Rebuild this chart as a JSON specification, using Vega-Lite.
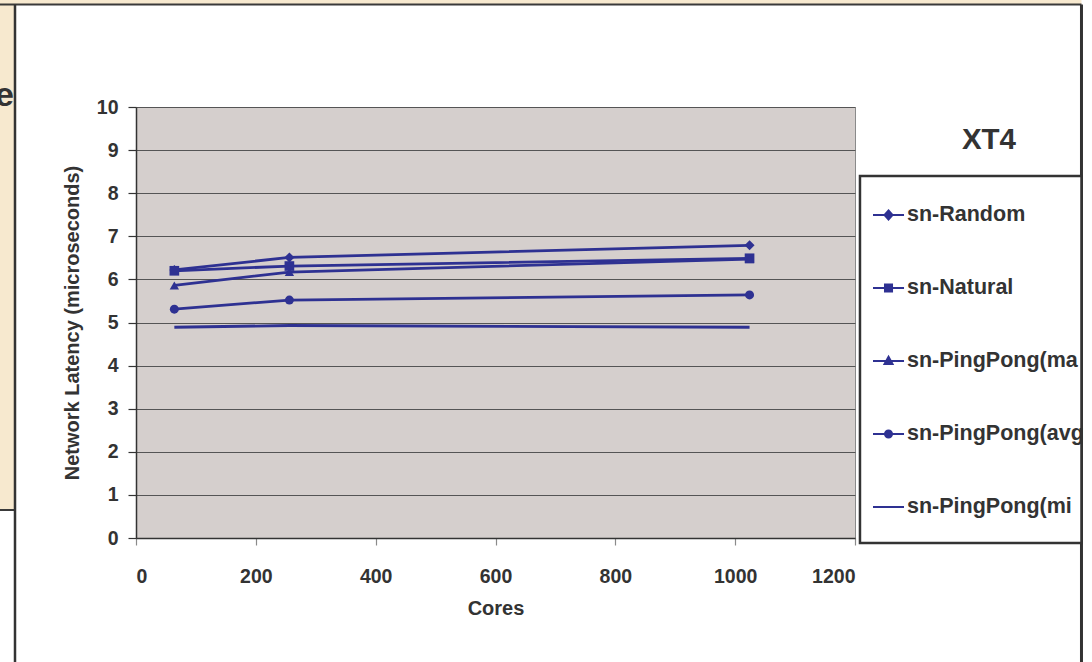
{
  "$schema": "https://vega.github.io/schema/vega-lite/v6.json",
  "width": 719,
  "height": 431,
  "autosize": {"type": "none"},
  "padding": {"left": 136, "top": 107, "right": 237, "bottom": 124},
  "background": "#ffffff",
  "title": {
    "text": "XT4",
    "anchor": "end",
    "frame": "group",
    "orient": "top",
    "offset": 0,
    "dx": 161,
    "dy": 179,
    "baseline": "alphabetic",
    "font": "Liberation Sans",
    "fontSize": 29.5,
    "fontWeight": "bold",
    "color": "#333333"
  },
  "config": {
    "view": {"fill": "#d5cfcd", "stroke": "#8a8a8a", "strokeWidth": 1},
    "axis": {
      "labelFont": "Liberation Sans",
      "labelFontSize": 19.5,
      "labelFontWeight": "bold",
      "labelColor": "#333333",
      "titleFont": "Liberation Sans",
      "titleFontSize": 20,
      "titleFontWeight": "bold",
      "titleColor": "#333333",
      "domainColor": "#333333",
      "domainWidth": 1.5
    },
    "axisX": {
      "grid": false,
      "tickColor": "#8a8a8a",
      "tickSize": 7,
      "tickWidth": 1.2,
      "labelPadding": 22,
      "titleY": 70,
      "titleBaseline": "middle"
    },
    "axisY": {
      "grid": true,
      "gridColor": "#555555",
      "gridWidth": 1,
      "tickColor": "#333333",
      "tickSize": 8,
      "tickWidth": 1.2,
      "labelPadding": 10,
      "titleX": -64,
      "titleBaseline": "middle"
    }
  },
  "layer": [
    {
      "data": {"values": [{"strip": "left"}]},
      "mark": {"type": "rect", "fill": "#f7e9cf"},
      "encoding": {
        "x": {"datum": -300, "type": "quantitative", "scale": {"domain": [0, 1200], "nice": false}},
        "x2": {"datum": -201.95},
        "y": {"datum": 12.4826, "type": "quantitative", "scale": {"domain": [0, 10], "nice": false}},
        "y2": {"datum": 0.65}
      }
    },
    {
      "data": {"values": [{"strip": "top"}]},
      "mark": {"type": "rect", "fill": "#f7e9cf"},
      "encoding": {
        "x": {"datum": -300, "type": "quantitative", "scale": {"domain": [0, 1200], "nice": false}},
        "x2": {"datum": 1578},
        "y": {"datum": 12.4826, "type": "quantitative", "scale": {"domain": [0, 10], "nice": false}},
        "y2": {"datum": 12.378}
      }
    },
    {
      "data": {"values": [{"edge": "top"}]},
      "mark": {"type": "rule", "color": "#3a3a3a", "strokeWidth": 2},
      "encoding": {
        "x": {"datum": -300, "type": "quantitative", "scale": {"domain": [0, 1200], "nice": false}},
        "x2": {"datum": 1578},
        "y": {"datum": 12.378, "type": "quantitative", "scale": {"domain": [0, 10], "nice": false}}
      }
    },
    {
      "data": {"values": [{"edge": "corner"}]},
      "mark": {"type": "rule", "color": "#3a3a3a", "strokeWidth": 2},
      "encoding": {
        "x": {"datum": -300, "type": "quantitative", "scale": {"domain": [0, 1200], "nice": false}},
        "x2": {"datum": -201.95},
        "y": {"datum": 0.65, "type": "quantitative", "scale": {"domain": [0, 10], "nice": false}}
      }
    },
    {
      "data": {"values": [{"edge": "left"}]},
      "mark": {"type": "rule", "color": "#333333", "strokeWidth": 2.5},
      "encoding": {
        "x": {"datum": -201.95, "type": "quantitative", "scale": {"domain": [0, 1200], "nice": false}},
        "y": {"datum": 12.378, "type": "quantitative", "scale": {"domain": [0, 10], "nice": false}},
        "y2": {"datum": -4}
      }
    },
    {
      "data": {"values": [{"edge": "right"}]},
      "mark": {"type": "rule", "color": "#333333", "strokeWidth": 3},
      "encoding": {
        "x": {"datum": 1578, "type": "quantitative", "scale": {"domain": [0, 1200], "nice": false}},
        "y": {"datum": 12.378, "type": "quantitative", "scale": {"domain": [0, 10], "nice": false}},
        "y2": {"datum": -4}
      }
    },
    {
      "data": {"values": [{"box": "legend"}]},
      "mark": {"type": "rect", "fill": "#ffffff", "stroke": "#333333", "strokeWidth": 2.5},
      "encoding": {
        "x": {"datum": 1208.3, "type": "quantitative", "scale": {"domain": [0, 1200], "nice": false}},
        "x2": {"datum": 1578},
        "y": {"datum": 8.399, "type": "quantitative", "scale": {"domain": [0, 10], "nice": false}},
        "y2": {"datum": -0.116}
      }
    },
    {
      "data": {"values": [{"letter": "e"}]},
      "mark": {"type": "text", "align": "right", "baseline": "alphabetic", "font": "Liberation Sans", "fontSize": 34, "fontWeight": "bold", "color": "#333333"},
      "encoding": {
        "x": {"datum": -203.6, "type": "quantitative", "scale": {"domain": [0, 1200], "nice": false}},
        "y": {"datum": 10.02, "type": "quantitative", "scale": {"domain": [0, 10], "nice": false}},
        "text": {"field": "letter"}
      }
    },
    {
      "data": {"name": "latency"},
      "mark": {"type": "line", "strokeWidth": 2.8},
      "encoding": {
        "x": {
          "field": "cores",
          "type": "quantitative",
          "scale": {"domain": [0, 1200], "nice": false},
          "axis": {"values": [0, 200, 400, 600, 800, 1000, 1200], "format": "d", "title": "Cores"}
        },
        "y": {
          "field": "latency",
          "type": "quantitative",
          "scale": {"domain": [0, 10], "nice": false},
          "axis": {"values": [0, 1, 2, 3, 4, 5, 6, 7, 8, 9, 10], "title": "Network Latency (microseconds)"}
        },
        "color": {
          "field": "series",
          "type": "nominal",
          "scale": {
            "domain": ["sn-Random", "sn-Natural", "sn-PingPong(max)", "sn-PingPong(avg)", "sn-PingPong(min)"],
            "range": ["#2e3192", "#2e3192", "#2e3192", "#2e3192", "#2e3192"]
          },
          "legend": {
            "title": null,
            "orient": "none",
            "legendX": 736,
            "legendY": 83.5,
            "padding": 0,
            "labelFont": "Liberation Sans",
            "labelFontSize": 21.5,
            "labelFontWeight": "bold",
            "labelColor": "#333333",
            "labelLimit": 183,
            "labelOffset": -14,
            "symbolSize": 2209,
            "symbolStrokeWidth": 2,
            "rowPadding": 38,
            "encoding": {
              "symbols": {
                "shape": {"value": {"expr": "datum.value === 'sn-Random' ? 'M-1,0H0.32M-0.34,-0.19L-0.17,0L-0.34,0.19L-0.51,0Z' : datum.value === 'sn-Natural' ? 'M-1,0H0.32M-0.49,-0.15H-0.19V0.15H-0.49Z' : datum.value === 'sn-PingPong(max)' ? 'M-1,0H0.32M-0.34,-0.18L-0.17,0.13H-0.51Z' : datum.value === 'sn-PingPong(avg)' ? 'M-1,0H0.32M-0.49,0A0.15,0.15,0,1,1,-0.19,0A0.15,0.15,0,1,1,-0.49,0Z' : 'M-1,0H0.32'"}},
                "fill": {"value": "#2e3192"},
                "stroke": {"value": "#2e3192"}
              },
              "labels": {
                "ellipsis": {"value": " "}
              }
            }
          }
        }
      }
    },
    {
      "data": {"name": "latency"},
      "transform": [{"filter": "datum.series !== 'sn-PingPong(min)'"}],
      "mark": {"type": "point", "filled": true, "opacity": 1, "color": "#2e3192"},
      "encoding": {
        "x": {"field": "cores", "type": "quantitative", "scale": {"domain": [0, 1200], "nice": false}},
        "y": {"field": "latency", "type": "quantitative", "scale": {"domain": [0, 10], "nice": false}},
        "shape": {
          "field": "series",
          "type": "nominal",
          "scale": {
            "domain": ["sn-Random", "sn-Natural", "sn-PingPong(max)", "sn-PingPong(avg)"],
            "range": ["diamond", "square", "triangle-up", "circle"]
          },
          "legend": null
        },
        "size": {
          "field": "series",
          "type": "nominal",
          "scale": {
            "domain": ["sn-Random", "sn-Natural", "sn-PingPong(max)", "sn-PingPong(avg)"],
            "range": [100, 81, 80, 80]
          },
          "legend": null
        }
      }
    }
  ],
  "datasets": {
    "latency": [
      {"series": "sn-Random", "cores": 64, "latency": 6.22},
      {"series": "sn-Random", "cores": 256, "latency": 6.51},
      {"series": "sn-Random", "cores": 1024, "latency": 6.79},
      {"series": "sn-Natural", "cores": 64, "latency": 6.2},
      {"series": "sn-Natural", "cores": 256, "latency": 6.31},
      {"series": "sn-Natural", "cores": 1024, "latency": 6.49},
      {"series": "sn-PingPong(max)", "cores": 64, "latency": 5.86},
      {"series": "sn-PingPong(max)", "cores": 256, "latency": 6.17},
      {"series": "sn-PingPong(max)", "cores": 1024, "latency": 6.47},
      {"series": "sn-PingPong(avg)", "cores": 64, "latency": 5.31},
      {"series": "sn-PingPong(avg)", "cores": 256, "latency": 5.52},
      {"series": "sn-PingPong(avg)", "cores": 1024, "latency": 5.64},
      {"series": "sn-PingPong(min)", "cores": 64, "latency": 4.89},
      {"series": "sn-PingPong(min)", "cores": 256, "latency": 4.93},
      {"series": "sn-PingPong(min)", "cores": 1024, "latency": 4.89}
    ]
  }
}
